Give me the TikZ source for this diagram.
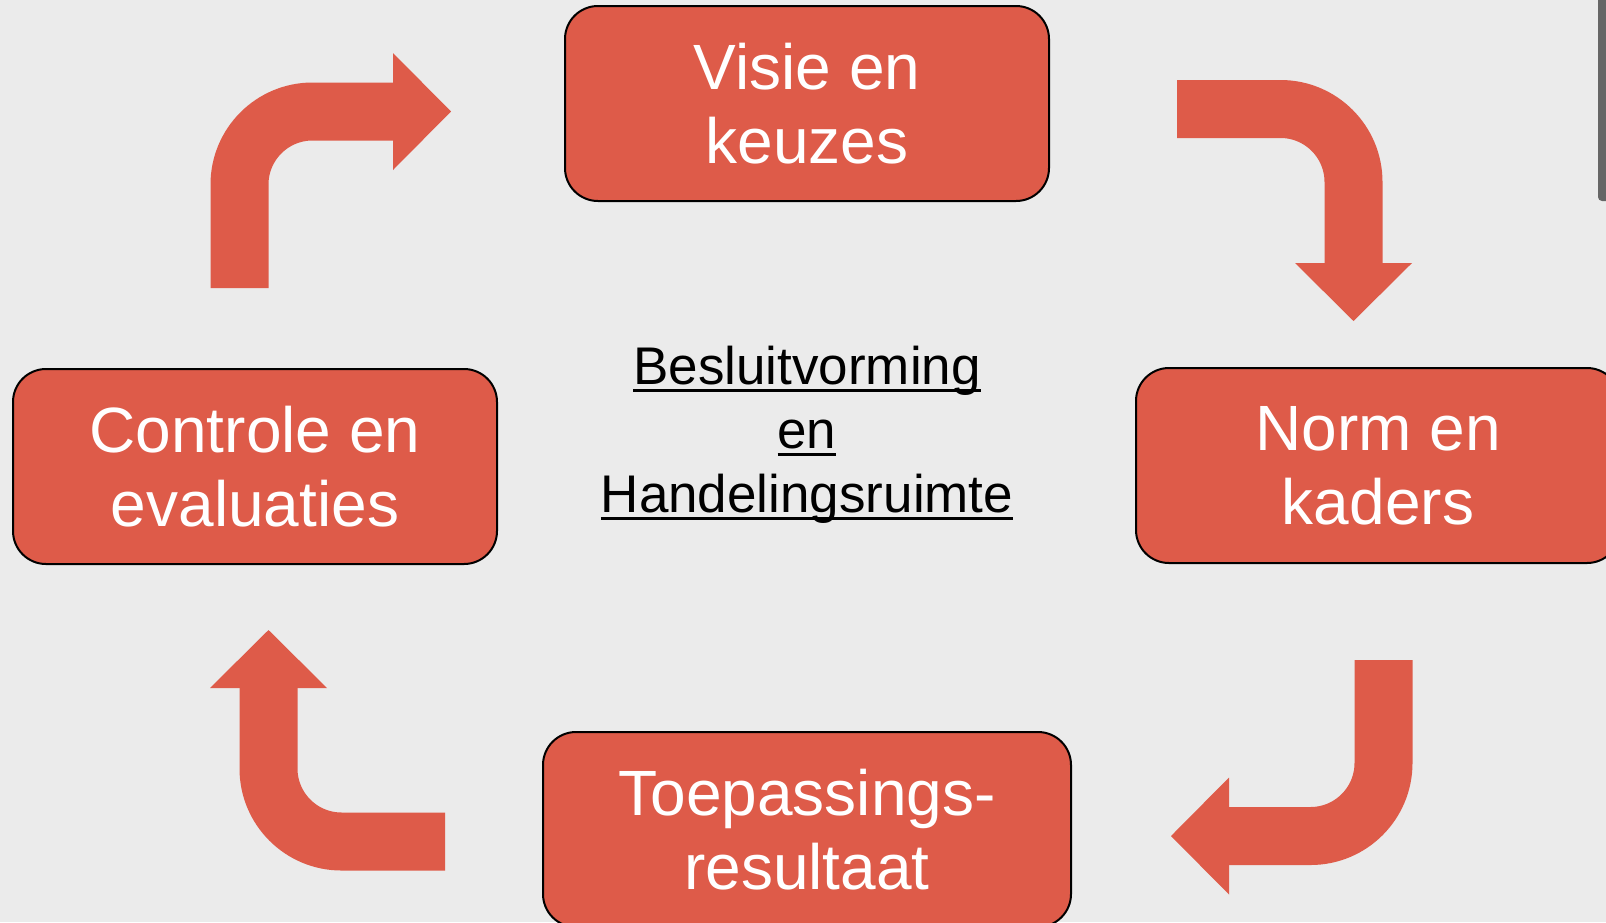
\documentclass[tikz,border=0pt]{standalone}
\usepackage{fontspec}
\setmainfont{Liberation Sans}
\usetikzlibrary{arrows.meta, positioning}
\definecolor{blockred}{RGB}{222,91,73}
\definecolor{slidegray}{RGB}{235,235,235}
\tikzset{%
	stagebox/.style={draw=black, line width=2pt, fill=blockred, rectangle, rounded corners=33pt,%
		minimum width=484pt, minimum height=195pt, inner sep=0pt, align=center, text=white,%
		font=\fontsize{64}{74}\selectfont},
	bendarrow/.style={draw=blockred, line width=58pt, rounded corners=73pt,%
		-{Triangle[width=117pt, length=58pt, line width=0pt]}},
	centretext/.style={align=center, text=black, font=\fontsize{53}{64}\selectfont}
}
\newcommand{\ulword}[1]{\setbox0\hbox{#1}\rlap{\rule[-7pt]{\wd0}{2.5pt}}\box0}

\begin{document}
\begin{tikzpicture}[x=1pt, y=-1pt]
	\useasboundingbox (0,0) rectangle (1606,922);
	\fill[slidegray] (0,0) rectangle (1606,922);
	\clip (0,0) rectangle (1606,922);
	% dark edge top right
	\fill[black!60, rounded corners=4pt] (1598,-10) rectangle (1616,201);

	\node[stagebox] (visie) at (807,103.5) {Visie en\\keuzes};
	\node[stagebox] (norm) at (1378,465.5) {Norm en\\kaders};
	\node[stagebox, minimum width=528pt] (toep) at (807,829.5) {Toepassings-\\resultaat};
	\node[stagebox] (controle) at (255,466.5) {Controle en\\evaluaties};
	\node[centretext] (besluit) at (807,435) {\ulword{Besluitvorming}\\\ulword{en}\\\ulword{Handelingsruimte}};

	\coordinate (cv-tail) at (239.5,288);
	\coordinate (cv-bend) at (239.5,111.5);
	\coordinate (cv-tip) at (451,111.5);
	\coordinate (vn-tail) at (1177,109);
	\coordinate (vn-bend) at (1353.5,109);
	\coordinate (vn-tip) at (1353.5,321);
	\coordinate (nt-tail) at (1383.5,660);
	\coordinate (nt-bend) at (1383.5,836);
	\coordinate (nt-tip) at (1171,836);
	\coordinate (tc-tail) at (445,841.5);
	\coordinate (tc-bend) at (268.5,841.5);
	\coordinate (tc-tip) at (268.5,630);

	\draw[bendarrow] (cv-tail) -- (cv-bend) -- (cv-tip);
	\draw[bendarrow] (vn-tail) -- (vn-bend) -- (vn-tip);
	\draw[bendarrow] (nt-tail) -- (nt-bend) -- (nt-tip);
	\draw[bendarrow] (tc-tail) -- (tc-bend) -- (tc-tip);
\end{tikzpicture}
\end{document}
